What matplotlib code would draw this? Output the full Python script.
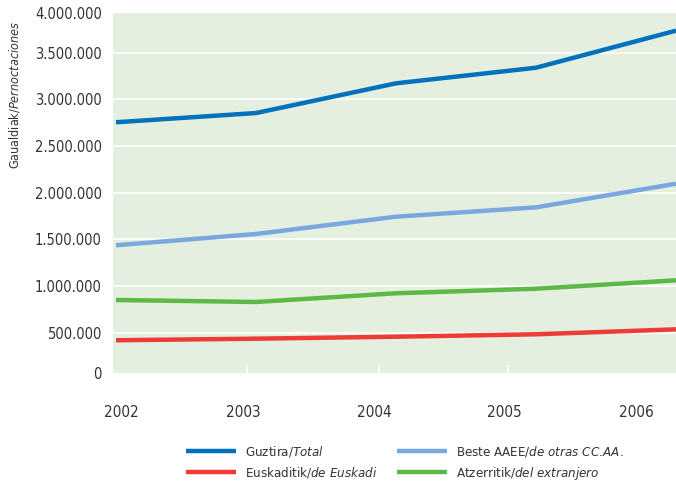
import matplotlib
matplotlib.use("Agg")
from matplotlib import pyplot as plt
from matplotlib import font_manager as fm
import numpy as np

# Data
years = ["2002", "2003", "2004", "2005", "2006"]
total = [2753000, 2852000, 3170000, 3337000, 3734000]
otras_ccaa = [1436000, 1557000, 1742000, 1842000, 2095000]
extranjero = [850000, 829000, 922000, 971000, 1061000]
euskadi = [419000, 436000, 457000, 483000, 536000]

y_ticks = [500000, 1000000, 1500000, 2000000, 2500000, 3000000, 3500000]

# font choice, the original uses a condensed face
names = {f.name for f in fm.fontManager.ttflist}
if "Liberation Sans Narrow" in names:
    FONT = "Liberation Sans Narrow"
    plt.rcParams["font.family"] = [FONT, "DejaVu Sans"]
else:
    FONT = "DejaVu Sans"
    plt.rcParams["font.family"] = ["DejaVu Sans"]
    plt.rcParams["font.stretch"] = "condensed"
plt.rcParams["mathtext.fontset"] = "custom"
plt.rcParams["mathtext.rm"] = FONT
plt.rcParams["mathtext.it"] = FONT + ":italic"

TXT = "#333333"
BG = "#e5efdf"

fig = plt.figure(figsize=(6.76, 4.83), dpi=100)
ax = fig.add_axes([113/676, 1-372.7/483, 1-113/676, (372.7-13)/483])
ax.set_facecolor(BG)
for s in ax.spines.values():
    s.set_visible(False)

x = np.arange(len(years))
lw = 3.2
l1, = ax.plot(x, total, color="#0071bc", lw=lw, solid_capstyle="butt", label="Guztira/$\\mathit{Total}$")
l3, = ax.plot(x, otras_ccaa, color="#7aa8de", lw=lw, solid_capstyle="butt", label="Beste AAEE/$\\mathit{de\\ otras\\ CC.\\!AA.}$")
l4, = ax.plot(x, extranjero, color="#5cb946", lw=lw, solid_capstyle="butt", label="Atzerritik/$\\mathit{del\\ extranjero}$")
l2, = ax.plot(x, euskadi, color="#ee3b36", lw=lw, solid_capstyle="butt", label="Euskaditik/$\\mathit{de\\ Euskadi}$")

# axis range (the bottom/top labels sit on the edges like the original)
ybot, ytop = 71700, 3923000
ax.set_ylim(ybot, ytop)
ax.set_xlim(-0.0214, 4.0)

ax.set_yticks([ybot] + y_ticks + [ytop])
ax.set_yticklabels(["0"] + [f"{v:,}".replace(",", ".") for v in y_ticks] + ["4.000.000"])
ax.tick_params(axis="y", length=0, pad=8, labelsize=10.5, labelcolor=TXT)
for v in y_ticks:
    ax.axhline(v, color="white", lw=1.3, zorder=1)

# year labels and small white marks
label_pos = [0.039, 0.911, 1.846, 2.775, 3.714]
mark_pos = [0.936, 1.879, 2.80]
ax.set_xticks(label_pos)
ax.set_xticklabels(years)
ax.tick_params(axis="x", length=0, pad=23, labelsize=11, labelcolor=TXT)
ax.set_xticks(mark_pos, minor=True)
ax.tick_params(axis="x", which="minor", direction="in", length=6, width=1.3, color="white")

fig.text(15/676, 1-95/483, "Gaualdiak/$\\mathit{Pernoctaciones}$", rotation=90,
         ha="center", va="center", fontsize=9, color=TXT)

fig.legend(handles=[l1, l2, l3, l4], loc="upper left", bbox_to_anchor=(186/676, 1-444/483),
           ncol=2, frameon=False, fontsize=9.5, handlelength=3.8, handletextpad=0.7,
           columnspacing=1.45, labelspacing=0.45, borderpad=0, borderaxespad=0,
           labelcolor=TXT)

fig.savefig("out.png", dpi=100)
